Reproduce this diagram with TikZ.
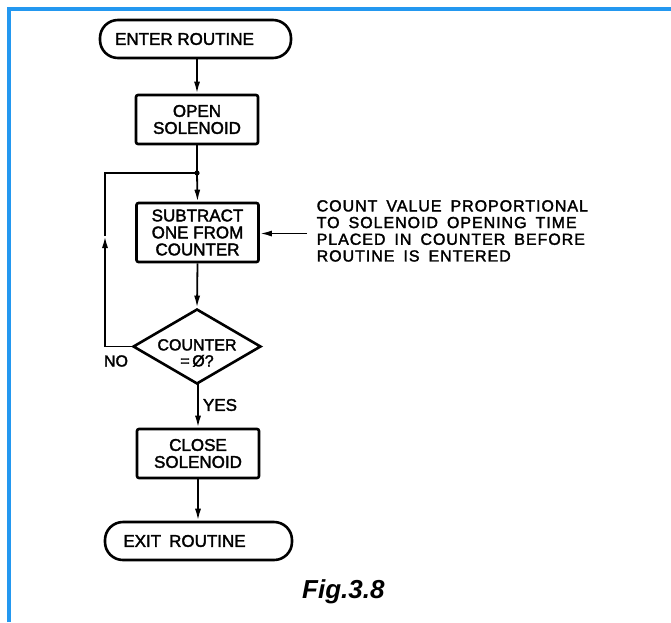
\documentclass[tikz,border=0pt]{standalone}
\usepackage{fontspec}
\setmainfont{Liberation Sans}
\newfontfamily\lettering[FakeBold=2]{Liberation Sans}
\newfontfamily\annfont[LetterSpace=6,FakeBold=2]{Liberation Sans}
\usetikzlibrary{arrows.meta,shapes.geometric}
\definecolor{frameblue}{RGB}{35,152,240}
\begin{document}
\begin{tikzpicture}[x=1pt,y=-1pt,
  proc/.style={draw, line width=2.6pt, rounded corners=2pt, minimum width=122pt,
    minimum height=49pt, inner sep=0pt, align=center, font=\lettering\fontsize{17}{17}\selectfont},
  term/.style={draw, line width=2.6pt, rounded corners=18pt, minimum height=38pt,
    inner sep=0pt, font=\lettering\fontsize{17}{17}\selectfont},
  decbox/.style={draw, line width=2.6pt, shape=diamond, minimum width=128pt,
    minimum height=75pt, inner sep=0pt},
  conn/.style={line width=1.8pt},
  arr/.style={conn, -{Latex[length=12pt,width=6pt]}},
  lbl/.style={inner sep=0pt, font=\lettering\fontsize{17}{17}\selectfont}
]
\useasboundingbox (0,0) rectangle (671,622);
% blue frame
\draw[frameblue, line width=3.5pt] (9,622) -- (9,9) -- (671,9);

% nodes
\node[term, minimum width=191pt] (enter) at (195.5,39) {\hspace*{-22pt}ENTER ROUTINE};
\node[proc] (open) at (197,119.5) {OPEN\\SOLENOID};
\coordinate (jn) at (197,173);
\node[proc, minimum height=59pt] (sub) at (197.5,232.5) {SUBTRACT\\ONE FROM\\COUNTER};
\node[decbox] (dec) at (197,346.5) {};
\node[lbl, align=center, font=\lettering\fontsize{16}{16}\selectfont] (dect) at (197,353) {COUNTER\\=\,Ø?};
\node[proc] (close) at (198,453.5) {CLOSE\\SOLENOID};
\node[term, minimum width=187pt] (exit) at (198.5,541) {\hspace*{-28pt}EXIT\hspace{8pt}ROUTINE};

\node[lbl, font=\lettering\fontsize{16}{16}\selectfont] (no) at (116,361) {NO};
\node[lbl] (yes) at (220,405) {YES};

\node[inner sep=0pt, anchor=north west, align=left,
  font=\annfont\fontsize{16}{16.7}\selectfont] (ann) at (316.5,200)
  {\spaceskip=9pt\relax COUNT VALUE PROPORTIONAL\\\spaceskip=9pt\relax TO SOLENOID OPENING TIME\\\spaceskip=9pt\relax PLACED IN COUNTER BEFORE\\\spaceskip=9pt\relax ROUTINE IS ENTERED};
\coordinate (annstart) at (307,233.5);

\node[inner sep=0pt, anchor=base west, font=\fontsize{26}{26}\selectfont\bfseries\itshape] (fig) at (302,598) {Fig.3.8};

% connectors
\draw[arr] (open.north |- enter.south) -- (open.north);
\draw[conn] (open.south) -- (jn);
\draw[arr] (jn) -- (sub.north);
\fill (jn) circle (2.6pt);
\draw[arr] (sub.south) -- (dec.north);
\draw[arr] (dec.south) -- (close.north |- dec.south) -- (close.north);
\draw[arr] (close.south) -- (close.south |- exit.north);
\coordinate (loopup) at (105,236);
\draw[arr] (dec.west) -| (loopup);
\draw[conn] (loopup) |- (jn);
\draw[arr] (annstart) -- (sub.east |- annstart);
\end{tikzpicture}
\end{document}
